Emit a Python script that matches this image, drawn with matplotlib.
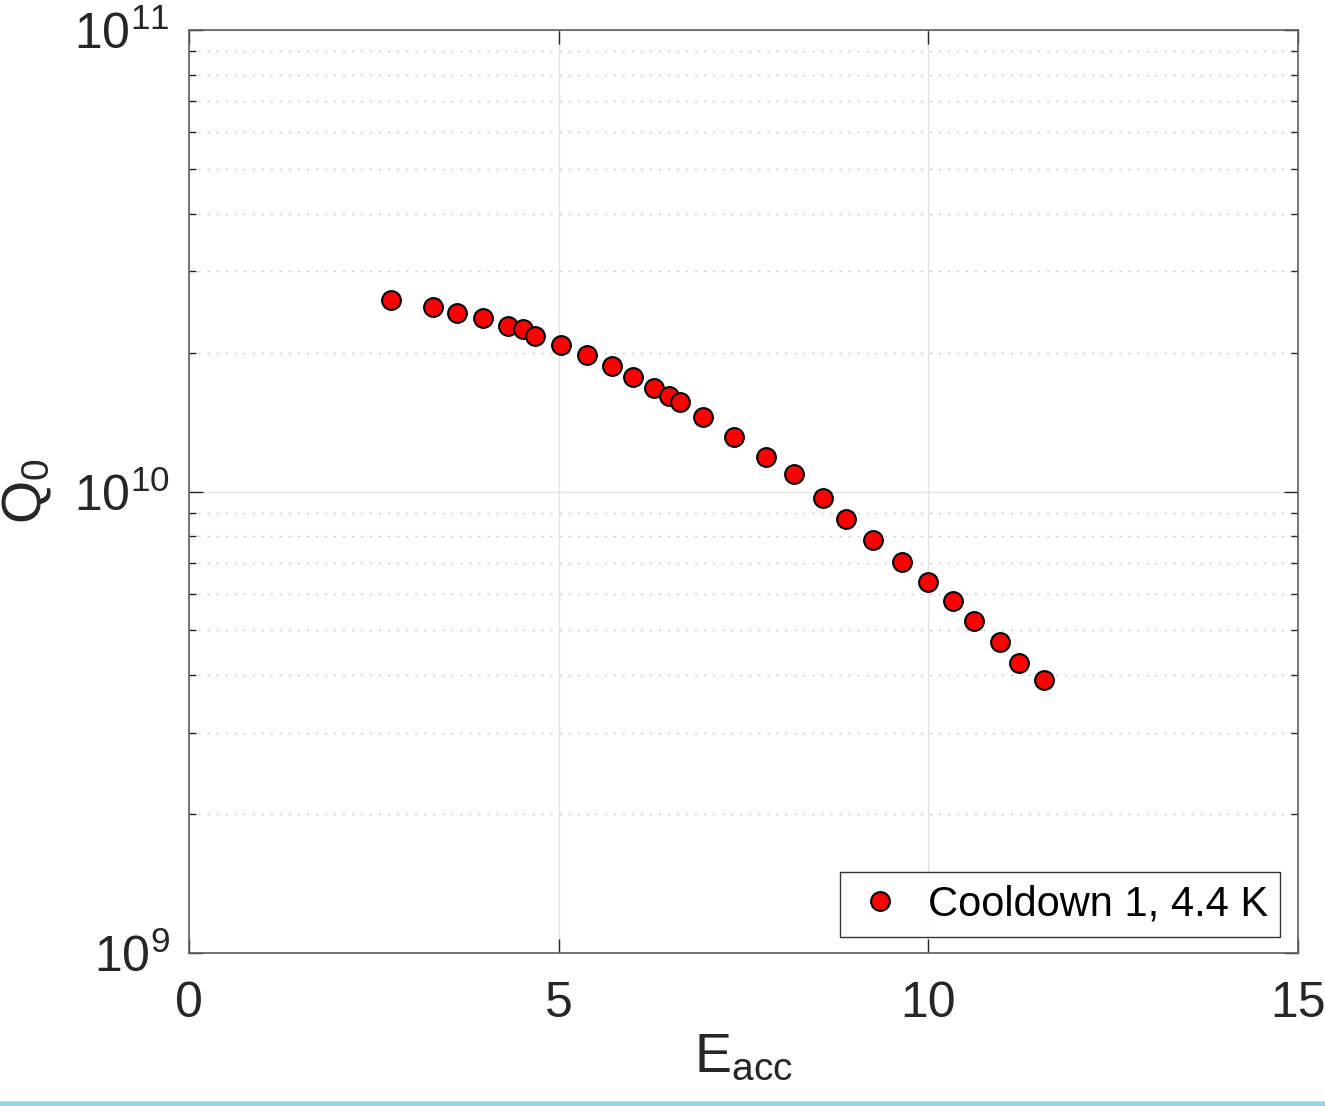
import numpy as np
import matplotlib
matplotlib.use("Agg")
import matplotlib.pyplot as plt
from matplotlib.lines import Line2D
from matplotlib.ticker import LogLocator, NullFormatter

plt.rcParams['font.family'] = ['Liberation Sans', 'DejaVu Sans']
plt.rcParams['mathtext.fontset'] = 'custom'
plt.rcParams['mathtext.rm'] = 'Liberation Sans'
plt.rcParams['mathtext.it'] = 'Liberation Sans'

# --- data ---
e_acc = [2.73, 3.30, 3.62, 3.98, 4.31, 4.52, 4.68, 5.03, 5.38, 5.72,
         6.01, 6.29, 6.49, 6.64, 6.95, 7.37, 7.80, 8.18, 8.58, 8.89,
         9.25, 9.64, 10.00, 10.33, 10.62, 10.97, 11.23, 11.57]
q0 = [2.60e10, 2.51e10, 2.44e10, 2.38e10, 2.28e10, 2.25e10, 2.17e10, 2.08e10,
      1.98e10, 1.87e10, 1.77e10, 1.68e10, 1.61e10, 1.56e10, 1.45e10, 1.31e10,
      1.19e10, 1.09e10, 9.68e9, 8.71e9, 7.85e9, 7.04e9, 6.37e9, 5.79e9,
      5.24e9, 4.72e9, 4.25e9, 3.91e9]
series_label = 'Cooldown 1, 4.4 K'
x_ticks = [0, 5, 10, 15]

fig = plt.figure(figsize=(13.25, 11.06), dpi=100)
ax = fig.add_axes([189 / 1325, 1 - 953 / 1106, (1298 - 189) / 1325, (953 - 30) / 1106])

ax.plot(e_acc, q0, 'o', color='red', markeredgecolor='black', markeredgewidth=1.5,
        markersize=13.5, label=series_label, zorder=3)

ax.set_yscale('log')
ax.set_xlim(0, 15)
ax.set_ylim(1e9, 1e11)
ax.set_xticks(x_ticks)
ax.yaxis.set_minor_locator(LogLocator(base=10, subs=np.arange(2, 10), numticks=20))
ax.yaxis.set_minor_formatter(NullFormatter())

ax.grid(True, which='major', color='#e3e3e3', linewidth=1.0, linestyle='-')
ax.grid(True, which='minor', axis='y', color='#c8c8c8', linewidth=1.0, linestyle=(0, (1.5, 5)))
ax.set_axisbelow(True)

for s in ax.spines.values():
    s.set_color('#5f5f5f')
    s.set_linewidth(1.2)
ax.tick_params(which='both', direction='in', top=True, right=True, colors='#262626',
               labelsize=36, width=1.0)
ax.tick_params(which='major', length=10)
ax.tick_params(axis='x', which='major', pad=20)
ax.tick_params(axis='y', which='major', pad=14)
ax.tick_params(which='minor', length=5)

ax.set_xlabel(r'E$_{\rm acc}$', fontsize=40, color='#262626', labelpad=4)
ax.set_ylabel(r'Q$_{\rm 0}$', fontsize=40, color='#262626', labelpad=14)

leg = ax.legend(loc='lower right', fontsize=30, frameon=True, fancybox=False,
                edgecolor='black', borderpad=0.3, handletextpad=0.5, borderaxespad=0,
                bbox_to_anchor=(0.984, 0.017), handlelength=1.3)
leg.get_frame().set_linewidth(1.0)

# light blue strip along the bottom edge
fig.add_artist(Line2D([0, 1], [0.002, 0.002], transform=fig.transFigure,
                      color='#94d4e4', linewidth=4))

fig.savefig('out.png', dpi=100)
